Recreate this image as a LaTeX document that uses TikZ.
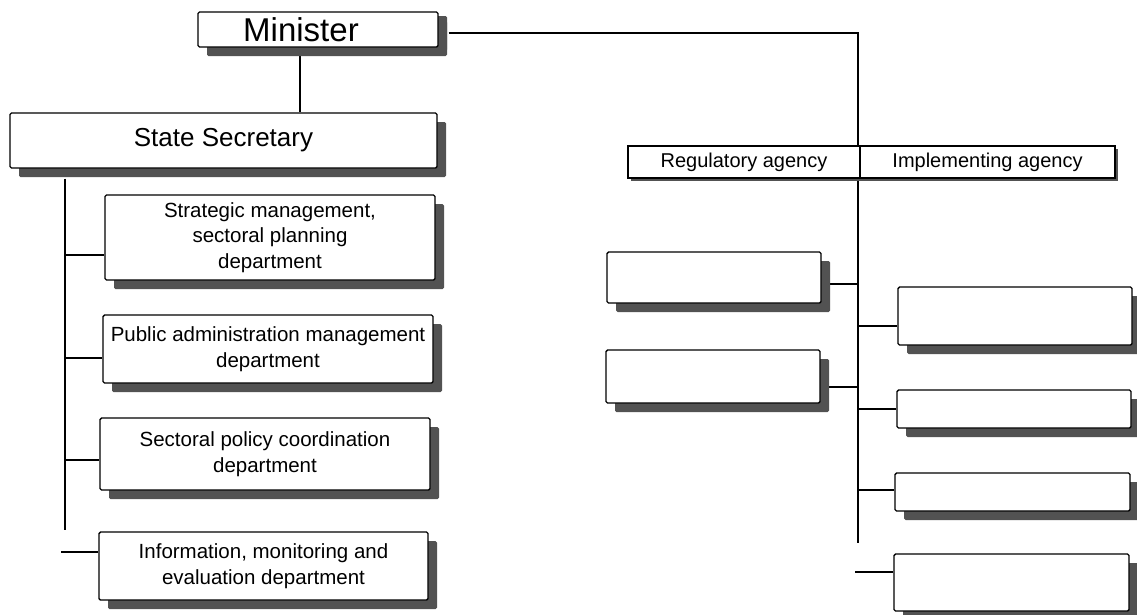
\documentclass[tikz,border=0pt]{standalone}
\usepackage{fontspec}
\setmainfont{Liberation Sans}
\usetikzlibrary{shadows,backgrounds}
\begin{document}
\begin{tikzpicture}[x=1pt,y=-1pt,
  box/.style={draw=black, line width=1.4pt, fill=white, rounded corners=1.5pt,
    inner sep=0pt, align=center,
    drop shadow={shadow xshift=9pt, shadow yshift=-9pt, fill=black!68, opacity=1}},
  minshadow/.style={drop shadow={shadow xshift=9pt, shadow yshift=-4pt, fill=black!68, opacity=1}},
  headbox/.style={draw=black, line width=1.4pt, fill=white, inner sep=0pt, align=center,
    font=\fontsize{20}{24}\selectfont,
    drop shadow={shadow xshift=3pt, shadow yshift=-3pt, fill=black!68, opacity=1}},
  dept/.style={box, font=\fontsize{20.5}{25.6}\selectfont},
  link/.style={draw=black, line width=1.3pt}
]
\useasboundingbox (0,0) rectangle (1137,614);

% boxes
\node[box, minshadow, minimum width=240pt, minimum height=35pt,
  font=\fontsize{33}{38}\selectfont] (min) at (318,29.5) {\hspace*{-34pt}Minister};
\node[box, minimum width=427pt, minimum height=55pt,
  font=\fontsize{26}{30}\selectfont] (ss) at (223.5,140.5) {State Secretary};

\node[dept, minimum width=330pt, minimum height=85pt] (strat) at (270,237.5)
  {Strategic management,\\sectoral planning\\department};
\node[dept, minimum width=330pt, minimum height=68pt] (pub) at (268,349)
  {Public administration management\\department};
\node[dept, minimum width=330pt, minimum height=72pt] (sect) at (265,454)
  {Sectoral policy coordination\\department};
\node[dept, minimum width=329pt, minimum height=68pt] (info) at (263.5,566)
  {Information, monitoring and\\evaluation department};

\node[box, minimum width=214pt, minimum height=51pt] (reg1) at (714,277.5) {};
\node[box, minimum width=214pt, minimum height=53pt] (reg2) at (713,376.5) {};

\node[box, minimum width=234pt, minimum height=58pt] (imp1) at (1015,316) {};
\node[box, minimum width=234pt, minimum height=38pt] (imp2) at (1014,409) {};
\node[box, minimum width=235pt, minimum height=38pt] (imp3) at (1012.5,492) {};
\node[box, minimum width=235pt, minimum height=57pt] (imp4) at (1011.5,582.5) {};

\node[headbox, minimum width=232pt, minimum height=32pt] (hreg) at (744,162) {Regulatory agency};
\node[headbox, minimum width=255pt, minimum height=32pt] (himp) at (987.5,162) {Implementing agency};

% connector end points
\coordinate (lt) at ([xshift=-158.5pt,yshift=-10pt]ss.south);
\coordinate (lb) at (lt |- 0,530);
\coordinate (rt) at (858,33);
\coordinate (rb) at (rt |- 0,543);
\coordinate (infofree) at ([xshift=-37pt,yshift=14pt]info.west);
\coordinate (imp4free) at ([xshift=-38pt,yshift=10.5pt]imp4.west);

\path ([yshift=-17.5pt]strat.west) coordinate (s1)
      ([yshift=-9pt]pub.west) coordinate (s2)
      ([yshift=-6pt]sect.west) coordinate (s3)
      ([xshift=7pt,yshift=-6.5pt]reg1.east) coordinate (r1)
      ([xshift=7pt,yshift=-10.5pt]reg2.east) coordinate (r2)
      ([yshift=-10pt]imp1.west) coordinate (i1)
      (imp2.west) coordinate (i2)
      ([yshift=2pt]imp3.west) coordinate (i3);

% connectors, behind the boxes
\begin{pgfonlayer}{background}
\draw[link] ([xshift=-18pt]min.south) -- ([xshift=-18pt]min.south |- ss.north);
\draw[link] ([xshift=10pt,yshift=-3.5pt]min.east) -- (rt) -- (rb);
\draw[link] (lt) -- (lb);
\draw[link] (s1 -| lt) -- (s1);
\draw[link] (s2 -| lt) -- (s2);
\draw[link] (s3 -| lt) -- (s3);
\draw[link] (infofree) -- (infofree -| info.west);
\draw[link] (r1) -- (r1 -| rt);
\draw[link] (r2) -- (r2 -| rt);
\draw[link] (i1 -| rt) -- (i1);
\draw[link] (i2 -| rt) -- (i2);
\draw[link] (i3 -| rt) -- (i3);
\draw[link] (imp4free) -- (imp4free -| imp4.west);
\end{pgfonlayer}
\end{tikzpicture}
\end{document}
